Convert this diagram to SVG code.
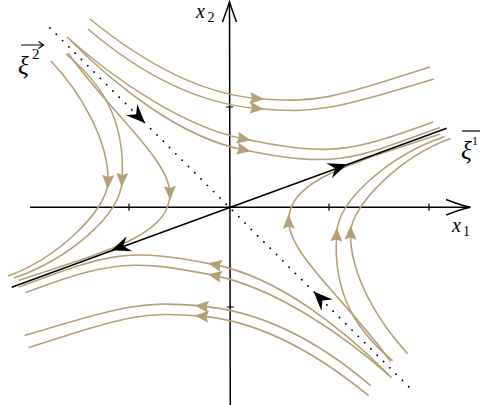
<svg xmlns="http://www.w3.org/2000/svg" width="480" height="405" viewBox="0 0 480 405">
<defs>
<style>
.flow{fill:none;stroke:#b4a07a;stroke-width:1.6;marker-mid:url(#ta)}
.ax{fill:none;stroke:#000;stroke-width:1.5}
.tick{fill:none;stroke:#000;stroke-width:1.2}
.eig{stroke:#000;stroke-width:1.6;fill:none}
.dots{stroke:#000;stroke-width:1.9;stroke-linecap:round;stroke-dasharray:0 8.9;fill:none}
.bh{fill:#000}
.lbl{font-family:"Liberation Serif","DejaVu Serif",serif;font-style:italic;fill:#000}
.num{font-family:"Liberation Serif","DejaVu Serif",serif;fill:#000}
</style>
<marker id="ta" markerUnits="userSpaceOnUse" viewBox="-10 -8 20 16" markerWidth="20" markerHeight="16" refX="0" refY="0" orient="auto"><path d="M7,0 L-7,-6 L-5,0 L-7,6 Z" fill="#b4a07a"/></marker>
</defs>

<g id="axes">
<line class="ax" x1="30" y1="207.3" x2="470" y2="207.3"/>
<path class="ax" d="M446,199.5 Q460,205 470.5,207.3 Q460,209.6 446,215.1"/>
<line class="ax" x1="229.5" y1="2" x2="230.3" y2="405"/>
<path class="ax" d="M222.5,22 Q227.2,9 229.5,2 Q231.8,9 236.5,22"/>
<path class="tick" d="M129,203.8V210.8 M329,203.8V210.8 M429,203.8V210.8 M226.2,107H233.2 M226.8,307H233.8"/>
</g>

<g id="streamlines">
<path id="t1" class="flow" d="M90,19 C150,68 205,94 257,98.5 C317,103.3 330,99 430,67"/>
<path id="t2" class="flow" d="M88,29 C150,82 205,104 257,108.5 C317,114 334,109 434,79"/>
<path id="t3" class="flow" d="M67,37 C115,80 184,127 244,139 C329,156 348,153.4 433,122"/>
<path id="t4" class="flow" d="M70,40 C115,85 179,137 244,150 C334,168 350,160.8 440,127.5"/>
<path id="l1" class="flow" d="M51,61 C80,92 109,140 108,182 C107,210 58,258 8,276"/>
<path id="l2" class="flow" d="M66,54 C100,82 126,118 122,180 C121.5,215 68,259.3 14,278"/>
<path id="l3" class="flow" d="M68,53 C110,112 168,158 170,193 C170,235 110,250 18.5,280.5"/>
<path id="b1" class="flow" d="M368.6,395.6 C308.6,346.6 253.6,320.6 201.6,316.1 C141.6,311.3 128.6,315.6 28.6,347.6"/>
<path id="b2" class="flow" d="M370.6,385.6 C308.6,332.6 253.6,310.6 201.6,306.1 C141.6,300.6 124.6,305.6 24.6,335.6"/>
<path id="b3" class="flow" d="M391.6,377.6 C343.6,334.6 274.6,287.6 214.6,275.6 C129.6,258.6 110.6,261.2 25.6,292.6"/>
<path id="b4" class="flow" d="M388.6,374.6 C343.6,329.6 279.6,277.6 214.6,264.6 C124.6,246.6 108.6,253.8 18.6,287.1"/>
<path id="r3" class="flow" d="M407.6,353.6 C378.6,322.6 349.6,274.6 350.6,232.6 C351.6,204.6 400.6,156.6 450.6,138.6"/>
<path id="r2" class="flow" d="M392.6,360.6 C358.6,332.6 332.6,296.6 336.6,234.6 C337.1,199.6 390.6,155.3 444.6,136.6"/>
<path id="r1" class="flow" d="M390.6,361.6 C348.6,302.6 290.6,256.6 288.6,221.6 C288.6,179.6 348.6,164.6 440.1,134.1"/>
</g>

<g id="eigenvectors">
<line class="eig" x1="11.7" y1="287.3" x2="446.7" y2="128.3"/>
<line class="dots" x1="50" y1="28" x2="409" y2="387"/>
<path class="bh" transform="translate(347,164.3) rotate(-20.07)" d="M0,0 L-19,-8 L-12.5,0 L-19,8 Z"/>
<path class="bh" transform="translate(111.6,250.3) rotate(159.93)" d="M0,0 L-19,-8 L-12.5,0 L-19,8 Z"/>
<path class="bh" transform="translate(145,123) rotate(45)" d="M0,0 L-19,-8 L-12.5,0 L-19,8 Z"/>
<path class="bh" transform="translate(313.6,291.6) rotate(225)" d="M0,0 L-19,-8 L-12.5,0 L-19,8 Z"/>
</g>

<g id="labels">
<text class="lbl" x="196" y="18" font-size="20">x</text>
<text class="num" x="207.5" y="22" font-size="14">2</text>
<text class="lbl" x="452" y="232" font-size="20">x</text>
<text class="num" x="463" y="236" font-size="14">1</text>
<text class="lbl" x="18" y="74" font-size="25">ξ</text>
<text class="num" x="32" y="59" font-size="15">2</text>
<path class="tick" d="M21,45H43 M38.5,41.5 L43.5,45 L38.5,48.5"/>
<text class="lbl" x="461" y="159" font-size="25">ξ</text>
<text class="num" x="472" y="145" font-size="12">1</text>
<path class="tick" d="M462,131H490"/>
</g>
</svg>
